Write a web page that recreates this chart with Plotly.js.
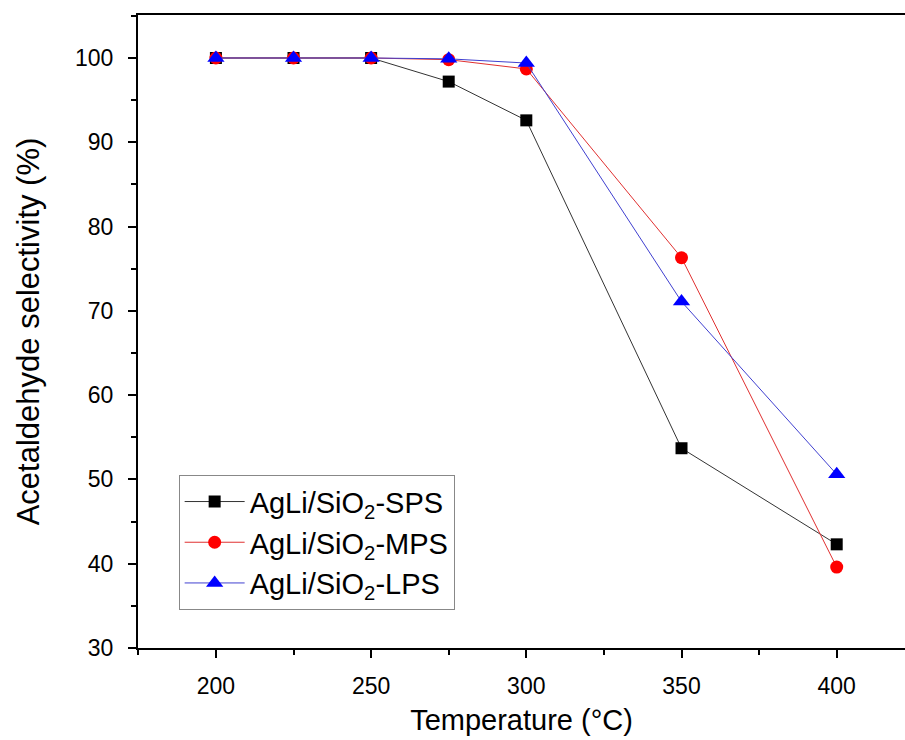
<!DOCTYPE html>
<html>
<head>
<meta charset="utf-8">
<script src="https://cdn.plot.ly/plotly-3.0.1.min.js"></script>
<style>html,body{margin:0;padding:0;background:#fff;}#chart{width:905px;height:740px;}</style>
</head>
<body>
<div id="chart"></div>
<script>
const temperature = [200, 225, 250, 275, 300, 350, 400];
const spsSelectivity = [100, 100, 100, 97.2, 92.6, 53.7, 42.3];
const mpsSelectivity = [100, 100, 100, 99.8, 98.7, 76.3, 39.6];
const lpsSelectivity = [100, 100, 100, 99.9, 99.4, 71.1, 50.6];
const seriesNames = ['AgLi/SiO<sub>2</sub>-SPS', 'AgLi/SiO<sub>2</sub>-MPS', 'AgLi/SiO<sub>2</sub>-LPS'];
const xTicks = [200, 250, 300, 350, 400];
const yTicks = [30, 40, 50, 60, 70, 80, 90, 100];

const font = 'Liberation Sans, Arial, sans-serif';
const traces = [
  {x: temperature, y: spsSelectivity, name: seriesNames[0], mode: 'lines+markers',
   line: {color: '#333333', width: 1}, marker: {symbol: 'square', size: 12, color: '#000000'}},
  {x: temperature, y: mpsSelectivity, name: seriesNames[1], mode: 'lines+markers',
   line: {color: '#e03030', width: 1}, marker: {symbol: 'circle', size: 13, color: '#ff0000'}},
  {x: temperature, y: lpsSelectivity, name: seriesNames[2], mode: 'lines+markers',
   line: {color: '#4040d0', width: 1}, marker: {symbol: 'triangle-up', size: 15, color: '#0000ff'}}
];

const layout = {
  width: 905, height: 740,
  margin: {l: 138, r: 0, t: 15, b: 92},
  paper_bgcolor: '#fff', plot_bgcolor: '#fff',
  font: {family: font, color: '#000'},
  showlegend: true,
  legend: {x: 0.053, y: 0.273, xanchor: 'left', yanchor: 'top',
    bgcolor: 'rgba(255,255,255,0)', bordercolor: '#888', borderwidth: 1,
    font: {size: 29, family: font}, itemwidth: 60, tracegroupgap: 0},
  xaxis: {
    range: [174.9, 422], tickvals: xTicks, ticks: 'outside', ticklen: 8, tickwidth: 2,
    tickcolor: '#000', showline: true, linecolor: '#000', linewidth: 2, mirror: true,
    showgrid: false, zeroline: false, tickfont: {size: 23}, ticklabelstandoff: 8,
    minor: {dtick: 25, tick0: 200, ticks: 'outside', ticklen: 5, tickwidth: 2, tickcolor: '#000', showgrid: false},
    title: {text: 'Temperature (°C)', font: {size: 29}, standoff: 12}
  },
  yaxis: {
    range: [30, 105.1], tickvals: yTicks, ticks: 'outside', ticklen: 8, tickwidth: 2,
    tickcolor: '#000', showline: true, linecolor: '#000', linewidth: 2, mirror: false,
    showgrid: false, zeroline: false, tickfont: {size: 23}, ticklabelstandoff: 10,
    minor: {dtick: 5, tick0: 30, ticks: 'outside', ticklen: 5, tickwidth: 2, tickcolor: '#000', showgrid: false},
    title: {text: 'Acetaldehyde selectivity (%)', font: {size: 31}, standoff: 26}
  }
};

Plotly.newPlot('chart', traces, layout, {displayModeBar: false, staticPlot: true});
</script>
</body>
</html>
